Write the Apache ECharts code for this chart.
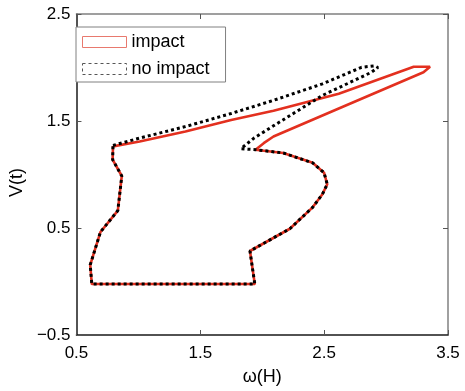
<!DOCTYPE html>
<html>
<head>
<meta charset="utf-8">
<script src="https://cdn.jsdelivr.net/npm/echarts@6/dist/echarts.min.js"></script>
<style>
  html, body { margin: 0; padding: 0; background: #fff; }
  #chart { width: 465px; height: 391px; }
</style>
</head>
<body>
<div id="chart"></div>
<script>
// Trajectory with impact (closed loop in the ω–V plane)
const impactW = [0.795, 1.010, 1.380, 1.749, 2.091, 2.618, 3.223, 3.355, 3.302, 2.618, 2.091, 2.012, 1.946,
                 2.170, 2.407, 2.499, 2.525, 2.486, 2.407, 2.223, 1.901, 1.940, 0.624, 0.611, 0.694, 0.834,
                 0.866, 0.792, 0.795];
const impactV = [1.263, 1.309, 1.401, 1.509, 1.595, 1.755, 2.007, 2.007, 1.955, 1.617, 1.355, 1.293, 1.232,
                 1.201, 1.109, 1.017, 0.909, 0.816, 0.693, 0.493, 0.285, -0.024, -0.024, 0.155, 0.463, 0.663,
                 0.986, 1.139, 1.263];

// Trajectory without impact
const noImpactW = [0.795, 1.010, 1.380, 1.749, 2.091, 2.486, 2.802, 2.907, 2.934, 2.881, 2.486, 2.091, 1.933,
                   1.828, 1.946, 2.170, 2.407, 2.499, 2.525, 2.486, 2.407, 2.223, 1.901, 1.940, 0.624, 0.611,
                   0.694, 0.834, 0.866, 0.792, 0.795];
const noImpactV = [1.272, 1.340, 1.448, 1.570, 1.693, 1.847, 2.002, 2.016, 2.000, 1.955, 1.739, 1.455, 1.340,
                   1.241, 1.232, 1.201, 1.109, 1.017, 0.909, 0.816, 0.693, 0.493, 0.285, -0.024, -0.024, 0.155,
                   0.463, 0.663, 0.986, 1.139, 1.272];

const seriesNames = ['impact', 'no impact'];
const xTicks = [0.5, 1.5, 2.5, 3.5];
const yTicks = [-0.5, 0.5, 1.5, 2.5];

const zip = (a, b) => a.map((v, i) => [v, b[i]]);
const fmt = v => (v < 0 ? '\u2212' + Math.abs(v) : String(v));
const FONT = 'Liberation Sans, Arial, sans-serif';

const chart = echarts.init(document.getElementById('chart'), null, { renderer: 'canvas' });

const mainAxisLine = { show: true, onZero: false, lineStyle: { color: '#1a1a1a', width: 1.5 } };
const frameAxisLine = { show: true, onZero: false, lineStyle: { color: '#808080', width: 1.5 } };
const tickStyle = { show: true, inside: true, length: 5, lineStyle: { color: '#555', width: 1 } };

chart.setOption({
  animation: false,
  backgroundColor: '#fff',
  grid: { left: 69, right: 17, top: 14, bottom: 52, containLabel: false },
  xAxis: [
    {
      type: 'value', min: 0.5, max: 3.5, position: 'bottom',
      name: 'ω(H)', nameLocation: 'middle', nameGap: 33,
      nameTextStyle: { fontSize: 18, color: '#000', fontFamily: FONT },
      axisLine: mainAxisLine,
      axisTick: Object.assign({ customValues: xTicks }, tickStyle),
      axisLabel: { customValues: xTicks, formatter: fmt, fontSize: 17, color: '#000', fontFamily: FONT, margin: 10 },
      splitLine: { show: false }
    },
    {
      type: 'value', min: 0.5, max: 3.5, position: 'top',
      axisLine: frameAxisLine,
      axisTick: Object.assign({ customValues: xTicks }, tickStyle),
      axisLabel: { show: false },
      splitLine: { show: false }
    }
  ],
  yAxis: [
    {
      type: 'value', min: -0.5, max: 2.5, position: 'left',
      name: 'V(t)', nameLocation: 'middle', nameGap: 44,
      nameTextStyle: { fontSize: 18, color: '#000', fontFamily: FONT, padding: [0, 16, 0, 0] },
      axisLine: mainAxisLine,
      axisTick: Object.assign({ customValues: yTicks }, tickStyle),
      axisLabel: { customValues: yTicks, formatter: fmt, fontSize: 17, color: '#000', fontFamily: FONT, margin: 6 },
      splitLine: { show: false }
    },
    {
      type: 'value', min: -0.5, max: 2.5, position: 'right',
      axisLine: frameAxisLine,
      axisTick: Object.assign({ customValues: yTicks }, tickStyle),
      axisLabel: { show: false },
      splitLine: { show: false }
    }
  ],
  legend: {
    orient: 'vertical', left: 76, top: 27,
    padding: [6, 16, 4, 6], itemGap: 9, itemWidth: 44, itemHeight: 11, itemTextGap: 9,
    borderColor: '#808080', borderWidth: 1, backgroundColor: '#fff',
    icon: 'rect',
    textStyle: { fontSize: 18, color: '#000', fontFamily: FONT },
    data: [
      { name: seriesNames[0], itemStyle: { color: '#fff', borderColor: '#e8796e', borderWidth: 1 } },
      { name: seriesNames[1], itemStyle: { color: '#fff', borderColor: '#555', borderWidth: 1, borderType: [3, 3] } }
    ]
  },
  series: [
    {
      name: seriesNames[0], type: 'line', xAxisIndex: 0, yAxisIndex: 0,
      data: zip(impactW, impactV), showSymbol: false, symbol: 'none', smooth: false,
      lineStyle: { color: '#e3301f', width: 2.6 }, itemStyle: { color: '#e3301f' }, z: 2
    },
    {
      name: seriesNames[1], type: 'line', xAxisIndex: 0, yAxisIndex: 0,
      data: zip(noImpactW, noImpactV), showSymbol: false, symbol: 'none', smooth: false,
      lineStyle: { color: '#000', width: 3, type: [3, 3], cap: 'butt' }, itemStyle: { color: '#000' }, z: 3
    }
  ]
});
</script>
</body>
</html>
